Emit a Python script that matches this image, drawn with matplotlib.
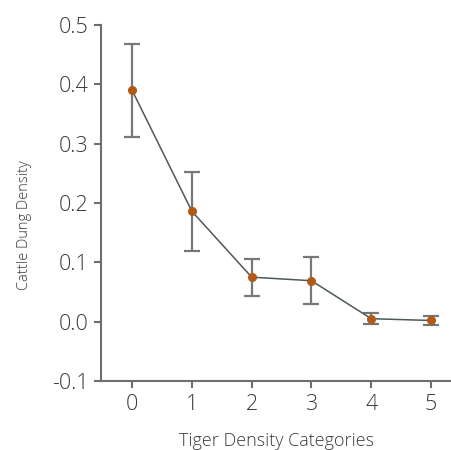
import matplotlib
matplotlib.use("Agg")
import matplotlib.pyplot as plt
import numpy as np

plt.rcParams['font.family'] = ['Open Sans', 'DejaVu Sans']

# data
categories = [0, 1, 2, 3, 4, 5]
dung_density = [0.390, 0.186, 0.075, 0.069, 0.005, 0.002]
dung_error = [0.078, 0.067, 0.031, 0.040, 0.009, 0.008]
y_ticks = [-0.1, 0.0, 0.1, 0.2, 0.3, 0.4, 0.5]

axis_grey = '#6e6e6e'
text_grey = '#3a3a3a'

fig = plt.figure(figsize=(4.52, 4.50), dpi=100)
ax = fig.add_axes([101 / 452, 69 / 450, 1 - 101 / 452, (381 - 25) / 450])

ax.errorbar(categories, dung_density, yerr=dung_error, fmt='none',
            ecolor='#777777', elinewidth=1.6, capsize=6, capthick=1.6, zorder=2)
ax.plot(categories, dung_density, color='#4d5858', linewidth=1.1, zorder=3)
ax.plot(categories, dung_density, 'o', color='#b05a16', markersize=5.5, zorder=4)

ax.set_xlim(-0.52, 5.35)
ax.set_ylim(-0.1, 0.5)
ax.set_xticks(categories)
ax.set_yticks(y_ticks)
ax.set_yticklabels(['%.1f' % v for v in y_ticks])

for side in ['top', 'right']:
    ax.spines[side].set_visible(False)
for side in ['left', 'bottom']:
    ax.spines[side].set_color(axis_grey)
    ax.spines[side].set_linewidth(1.5)

ax.tick_params(axis='both', direction='out', length=5, width=1.5, color=axis_grey,
               labelsize=15.5, labelcolor=text_grey, pad=4)
for lbl in ax.get_xticklabels() + ax.get_yticklabels():
    lbl.set_fontweight('light')

ax.set_xlabel('Tiger Density Categories', fontsize=13, color=text_grey,
              fontweight='light')
ax.set_ylabel('Cattle Dung Density', fontsize=10.5, color=text_grey,
              fontweight='light')
ax.xaxis.set_label_coords(0.5, -0.144)
ax.yaxis.set_label_coords(-0.196, 0.438)

fig.savefig('out.png', dpi=100)
